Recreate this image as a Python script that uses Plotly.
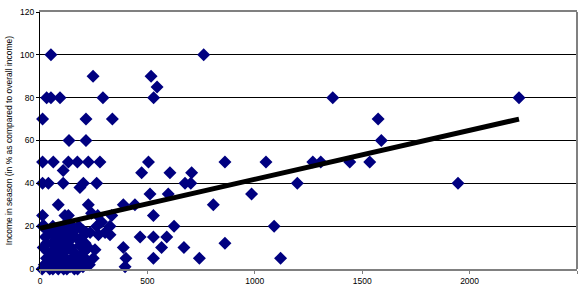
import plotly.graph_objects as go

# Scatter points: yearly overall income (x) vs income in season (% of overall)
income_x = [
    12, 31, 51, 93, 51, 135, 214, 214, 337, 247, 293, 517, 545, 529, 762, 1363, 1574, 1589, 2230, 1946,
    12, 62, 132, 174, 225, 279, 505, 861, 1052, 1270, 1307, 1442, 1535,
    108, 473, 605, 706,
    12, 39, 108, 202, 264, 675, 702, 1198, 186,
    512, 597, 985,
    85, 225, 388, 442, 807,
    12, 116, 132, 269, 334, 528, 240,
    12, 108, 264, 326, 624, 1090, 287,
    466, 528, 590, 233, 272, 303, 326,
    388, 566, 670, 861, 256,
    400, 528, 742, 1120, 248, 396,
    10, 20, 30, 40, 50, 60, 70, 80, 90, 100, 110, 120, 130, 140, 150, 160, 170, 180, 200, 220,
    15, 35, 55, 65, 75, 95, 105, 125, 145, 165, 185, 205, 225,
    25, 45, 70, 90, 115, 140, 160, 195, 215,
    20, 60, 150, 180,
    30, 50, 85, 110, 135, 155, 175, 190, 210, 230,
    45, 85, 125, 175, 35, 100, 130, 80, 60, 200,
]
income_season = [
    70, 80, 80, 80, 100, 60, 60, 70, 70, 90, 80, 90, 85, 80, 100, 80, 70, 60, 80, 40,
    50, 50, 50, 50, 50, 50, 50, 50, 50, 50, 50, 50, 50,
    46, 45, 45, 45,
    40, 40, 40, 40, 40, 40, 40, 40, 38,
    35, 35, 35,
    30, 30, 30, 30, 30,
    25, 25, 25, 25, 25, 25, 26,
    20, 20, 20, 20, 20, 20, 22,
    15, 15, 15, 17, 16, 17, 16,
    10, 10, 10, 12, 9,
    5, 5, 5, 5, 5, 1,
    0, 2, 5, 1, 3, 0, 2, 5, 1, 3, 0, 4, 2, 1, 5, 0, 3, 2, 1, 4,
    10, 8, 12, 7, 10, 8, 12, 9, 10, 7, 11, 8, 10,
    15, 17, 15, 18, 15, 16, 18, 15, 17,
    20, 20, 20, 20,
    12, 7, 13, 6, 13, 8, 14, 6, 12, 2,
    0, 0, 0, 0, 18, 19, 18, 10, 4, 18,
]

# Linear trend line endpoints
trend_x = [0, 2230]
trend_y = [19, 70]

x_ticks = [0, 500, 1000, 1500, 2000, 2500]
y_ticks = [0, 20, 40, 60, 80, 100, 120]
y_title = "Income in season (in % as compared to overall income)"

fig = go.Figure()
fig.add_trace(go.Scatter(
    x=income_x, y=income_season, mode="markers",
    marker=dict(symbol="diamond", size=10, color="#000080", line=dict(width=0)),
    cliponaxis=False, showlegend=False,
))
fig.add_trace(go.Scatter(
    x=trend_x, y=trend_y, mode="lines",
    line=dict(color="black", width=5), showlegend=False,
))

font = dict(family="Liberation Sans, Arial, sans-serif", size=8.5, color="black")
fig.update_layout(
    width=586, height=294,
    margin=dict(l=40, r=9, t=7, b=25),
    paper_bgcolor="white", plot_bgcolor="white",
    font=font,
    xaxis=dict(
        range=[0, 2500], tickvals=x_ticks, ticktext=[str(v) for v in x_ticks],
        showgrid=False, zeroline=False,
        showline=True, linecolor="#808080", linewidth=1.5, mirror=True,
        ticks="outside", ticklen=3, tickcolor="#808080",
    ),
    yaxis=dict(
        range=[0, 120], tickvals=y_ticks, ticktext=[str(v) for v in y_ticks],
        showgrid=True, gridcolor="black", gridwidth=1, zeroline=False,
        showline=True, linecolor="black", linewidth=1.2,
        ticks="outside", ticklen=3, tickcolor="black",
        title=dict(text=y_title, font=dict(size=8.5), standoff=6),
    ),
)
fig.add_shape(type="line", xref="paper", yref="paper", x0=1, x1=1, y0=0, y1=1,
              line=dict(color="#808080", width=2))
fig.write_html("out.html")
